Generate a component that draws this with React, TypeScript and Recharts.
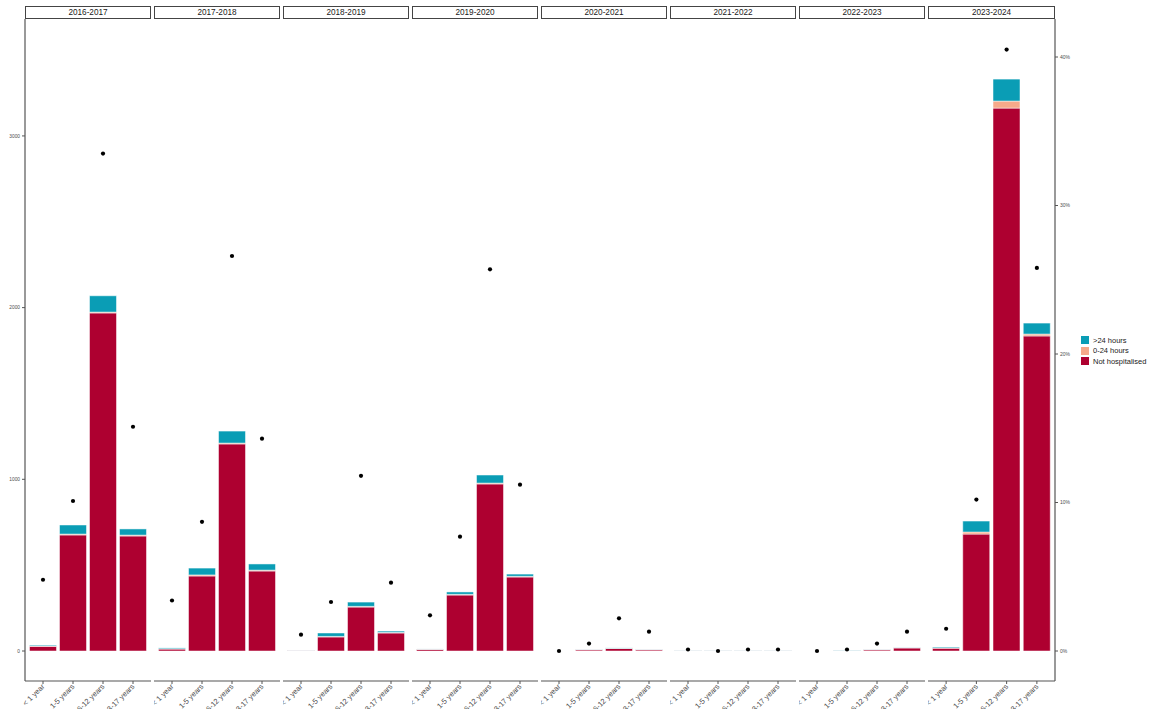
import React from 'react';
import { ComposedChart, Bar, Scatter, XAxis, YAxis } from 'recharts';

const seasons = ['2016-2017', '2017-2018', '2018-2019', '2019-2020', '2020-2021', '2021-2022', '2022-2023', '2023-2024'];
const ageGroups = ['< 1 year', '1-5 years', '6-12 years', '13-17 years'];

// counts per season, one value per age group
const notHospitalised = [
  [28, 676, 1969, 670],
  [12, 437, 1206, 466],
  [3, 82, 256, 105],
  [10, 326, 973, 431],
  [0, 7, 15, 7],
  [1, 1, 1, 1],
  [0, 1, 7, 18],
  [17, 681, 3162, 1835],
];
const hours0to24 = [
  [1, 5, 5, 5],
  [1, 6, 5, 5],
  [0, 3, 4, 3],
  [1, 4, 5, 4],
  [0, 0, 1, 0],
  [0, 0, 0, 0],
  [0, 0, 0, 0],
  [1, 12, 41, 11],
];
const hoursOver24 = [
  [5, 53, 95, 36],
  [5, 40, 70, 36],
  [1, 20, 25, 8],
  [1, 14, 47, 13],
  [0, 1, 2, 1],
  [1, 1, 1, 1],
  [0, 2, 1, 1],
  [5, 64, 128, 64],
];
// share (%) shown as dots on the right axis
const percentShare = [
  [4.8, 10.1, 33.5, 15.1],
  [3.4, 8.7, 26.6, 14.3],
  [1.1, 3.3, 11.8, 4.6],
  [2.4, 7.7, 25.7, 11.2],
  [0.0, 0.5, 2.2, 1.3],
  [0.1, 0.0, 0.1, 0.1],
  [0.0, 0.1, 0.5, 1.3],
  [1.5, 10.2, 40.5, 25.8],
];

const countTicks = [0, 1000, 2000, 3000];
const pctTicks = [0, 10, 20, 30, 40];

const RED = '#AE0030';
const SALMON = '#F6A98A';
const TEAL = '#0A9DB5';
const AXIS = '#555555';
const FONT = '"Liberation Sans", Arial, sans-serif';

const AgeTick = ({ x, y, payload }: any) => (
  <g transform={`translate(${x + 2},${y + 1})`}>
    <text transform="rotate(-45)" textAnchor="end" fontSize={7.5} fill="#4d4d4d" fontFamily={FONT}>
      {payload.value}
    </text>
  </g>
);

const Dot = (props: any) => <circle cx={props.cx} cy={props.cy} r={2.1} fill="#000" />;

const Panel = ({ idx }: { idx: number }) => {
  const rows = ageGroups.map((age, j) => ({
    age,
    notHosp: notHospitalised[idx][j],
    h024: hours0to24[idx][j],
    h24: hoursOver24[idx][j],
    pct: percentShare[idx][j],
  }));
  const first = idx === 0;
  const last = idx === seasons.length - 1;
  const plotW = last ? 127 : 126;
  const width = plotW + (first ? 25 : 0) + (last ? 30 : 0);
  const left = first ? 0 : 25 + idx * 129;

  return (
    <div style={{ position: 'absolute', left, top: 19 }}>
      <ComposedChart
        width={width}
        height={690}
        data={rows}
        margin={{ top: 0, right: 0, bottom: 0, left: 0 }}
        barCategoryGap={1.5}
      >
        <XAxis
          dataKey="age"
          height={28}
          interval={0}
          padding={{ left: 3, right: 3 }}
          axisLine={{ stroke: AXIS, strokeWidth: 1.2 }}
          tickLine={{ stroke: AXIS }}
          tickSize={3}
          tick={<AgeTick />}
        />
        <YAxis
          yAxisId="n"
          type="number"
          domain={[-174.7, 3681]}
          allowDataOverflow
          ticks={countTicks}
          hide={!first}
          width={25}
          axisLine={{ stroke: AXIS, strokeWidth: 1.2 }}
          tickLine={{ stroke: AXIS }}
          tickSize={3}
          tick={{ fontSize: 4.8, fill: '#4d4d4d', fontFamily: FONT }}
        />
        <YAxis
          yAxisId="p"
          type="number"
          orientation="right"
          domain={[-2.02, 42.56]}
          allowDataOverflow
          ticks={pctTicks}
          hide={!last}
          width={30}
          axisLine={{ stroke: AXIS, strokeWidth: 1.2 }}
          tickLine={{ stroke: AXIS }}
          tickSize={3}
          tickFormatter={(v: number) => `${v}%`}
          tick={{ fontSize: 5, fill: '#4d4d4d', fontFamily: FONT, textAnchor: 'start' }}
        />
        <Bar yAxisId="n" dataKey="notHosp" stackId="s" fill={RED} stroke="#fff" strokeWidth={0.5} isAnimationActive={false} />
        <Bar yAxisId="n" dataKey="h024" stackId="s" fill={SALMON} stroke="#fff" strokeWidth={0.5} isAnimationActive={false} />
        <Bar yAxisId="n" dataKey="h24" stackId="s" fill={TEAL} stroke="#fff" strokeWidth={0.5} isAnimationActive={false} />
        <Scatter yAxisId="p" dataKey="pct" shape={<Dot />} isAnimationActive={false} />
      </ComposedChart>
    </div>
  );
};

const legendItems = [
  { label: '>24 hours', color: TEAL },
  { label: '0-24 hours', color: SALMON },
  { label: 'Not hospitalised', color: RED },
];

export default function App() {
  return (
    <div style={{ position: 'absolute', left: 0, top: 0, width: 1157, height: 709, background: '#fff', fontFamily: FONT, overflow: 'hidden' }}>
      {seasons.map((s, i) => (
        <div
          key={s}
          style={{
            position: 'absolute',
            left: 25 + i * 129,
            top: 6,
            width: i === seasons.length - 1 ? 127 : 126,
            height: 13,
            boxSizing: 'border-box',
            border: '1px solid #444',
            fontSize: 8.2,
            lineHeight: '11px',
            textAlign: 'center',
            color: '#1a1a1a',
          }}
        >
          {s}
        </div>
      ))}
      {seasons.map((s, i) => (
        <Panel key={s} idx={i} />
      ))}
      <div style={{ position: 'absolute', left: 1080, top: 335 }}>
        {legendItems.map((it) => (
          <div key={it.label} style={{ display: 'flex', alignItems: 'center', height: 10.5 }}>
            <div style={{ width: 10, height: 10, background: it.color, border: '0.5px solid #fff', boxSizing: 'border-box' }} />
            <span style={{ fontSize: 7.5, marginLeft: 3, color: '#1a1a1a' }}>{it.label}</span>
          </div>
        ))}
      </div>
    </div>
  );
}
